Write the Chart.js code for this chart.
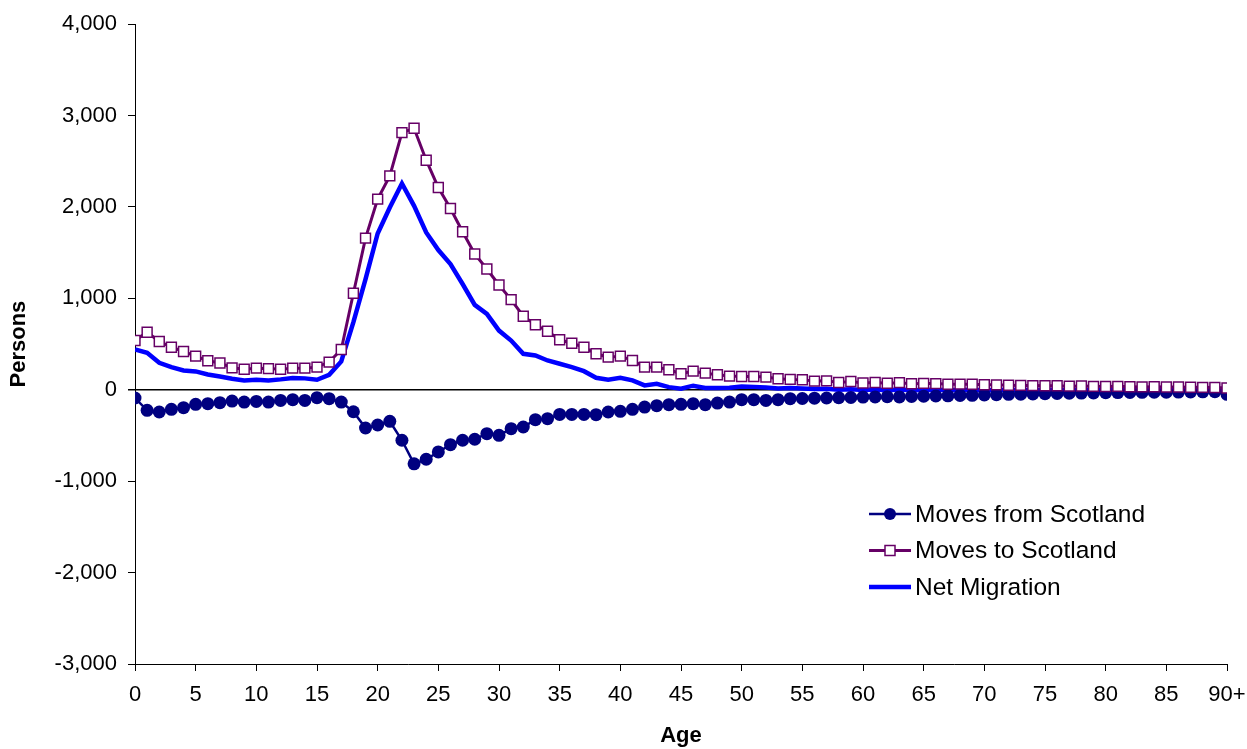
<!DOCTYPE html>
<html>
<head>
<meta charset="utf-8">
<script src="https://cdn.jsdelivr.net/npm/chart.js@4"></script>
<style>
    body { margin: 0; background: #fff; }
</style>
</head>
<body>
<canvas id="myChart" width="1247" height="749"></canvas>
<script>
// idades 0..89 e o grupo final "90+"
var idades = [];
for (var i = 0; i <= 90; i++) { idades.push(i); }
var rotulosIdade = idades.map(function (a) { return a == 90 ? '90+' : String(a); });

var yTicks = [-3000, -2000, -1000, 0, 1000, 2000, 3000, 4000];

var movesFrom = [-90, -225, -243, -214, -196, -159, -152, -141, -123, -134,
    -127, -134, -116, -108, -116, -86, -97, -134, -240, -418,
    -385, -345, -552, -810, -760, -680, -600, -552, -541, -480,
    -498, -425, -407, -327, -316, -269, -269, -269, -272, -243,
    -236, -214, -189, -174, -163, -159, -152, -163, -145, -134,
    -108, -108, -116, -108, -97, -95, -92, -90, -86, -84,
    -80, -78, -76, -78, -72, -70, -68, -66, -62, -60,
    -56, -54, -50, -48, -45, -42, -40, -38, -36, -34,
    -32, -30, -29, -28, -27, -26, -25, -24, -22, -20,
    -50];

var movesTo = [539, 630, 528, 466, 419, 368, 318, 294, 240, 225,
    237, 232, 225, 237, 237, 248, 303, 441, 1056, 1660,
    2086, 2341, 2814, 2861, 2512, 2213, 1984, 1729, 1486, 1322,
    1147, 987, 805, 711, 641, 547, 510, 466, 394, 357,
    368, 321, 248, 248, 219, 176, 204, 182, 165, 150,
    146, 146, 139, 121, 114, 110, 95, 98, 80, 90,
    75, 80, 72, 78, 66, 70, 68, 60, 62, 60,
    55, 54, 50, 48, 46, 45, 44, 40, 42, 38,
    36, 38, 34, 32, 33, 30, 31, 28, 27, 25,
    20];

var netMigration = [441, 405, 296, 248, 212, 201, 168, 146, 121, 103,
    110, 103, 114, 128, 125, 110, 164, 310, 740, 1210,
    1710, 1995, 2257, 2013, 1722, 1529, 1376, 1158, 929, 831,
    648, 539, 394, 376, 321, 285, 248, 204, 132, 110,
    132, 103, 48, 66, 29, 12, 45, 19, 19, 22,
    37, 32, 25, 15, 19, 15, 10, 12, 0, 6,
    -2, 3, -4, 2, -5, -2, 0, -5, -3, -2,
    -4, -3, 0, -2, -3, -2, 0, -4, -2, -3,
    -2, -1, -3, -2, -1, -3, -2, -3, -2, -4,
    -30];

function pontos(valores) {
    return valores.map(function (v, i) { return { x: idades[i], y: v }; });
}

Chart.defaults.font.family = "'Liberation Sans', Arial, sans-serif";
Chart.defaults.color = '#000';

// legenda desenhada dentro da area do grafico
var legendaPlugin = {
    id: 'legendaInterna',
    afterDraw: function (chart) {
        var c = chart.ctx;
        var itens = chart.data.datasets;
        var ordem = [1, 0, 2];
        var y0 = 514, passo = 36.5;
        c.save();
        c.font = "24.5px 'Liberation Sans', Arial, sans-serif";
        c.textBaseline = 'middle';
        c.textAlign = 'left';
        ordem.forEach(function (idx, k) {
            var ds = itens[idx];
            var y = y0 + k * passo;
            c.strokeStyle = ds.borderColor;
            c.lineWidth = ds.borderWidth;
            c.beginPath();
            c.moveTo(869, y);
            c.lineTo(911, y);
            c.stroke();
            if (ds.pointRadius > 0) {
                c.fillStyle = ds.pointBackgroundColor;
                c.strokeStyle = ds.pointBorderColor;
                c.lineWidth = ds.pointBorderWidth;
                c.beginPath();
                if (ds.pointStyle == 'circle') {
                    c.arc(890, y, 6, 0, Math.PI * 2);
                } else {
                    c.rect(885, y - 5, 10, 10);
                }
                c.fill();
                if (ds.pointBorderWidth > 0) c.stroke();
            }
            c.fillStyle = '#000';
            c.fillText(ds.label, 915, y + 1);
        });
        c.restore();
    }
};

const ctx = document.getElementById('myChart');

new Chart(ctx, {
    type: 'line',
    data: {
        datasets: [{
            label: 'Moves to Scotland',
            data: pontos(movesTo),
            borderColor: '#660066',
            borderWidth: 3,
            pointStyle: 'rect',
            pointRadius: 7,
            pointBorderWidth: 1.5,
            pointBackgroundColor: '#ffffff',
            pointBorderColor: '#660066',
            order: 0
        }, {
            label: 'Moves from Scotland',
            data: pontos(movesFrom),
            borderColor: '#000080',
            borderWidth: 2.5,
            pointStyle: 'circle',
            pointRadius: 6.5,
            pointBorderWidth: 0,
            pointBackgroundColor: '#000080',
            pointBorderColor: '#000080',
            order: 1
        }, {
            label: 'Net Migration',
            data: pontos(netMigration),
            borderColor: '#0000ff',
            borderWidth: 4.5,
            pointRadius: 0,
            order: 2
        }]
    },
    options: {
        responsive: false,
        animation: false,
        layout: { padding: { left: 0, right: 20, top: 23, bottom: 0 } },
        plugins: {
            legend: { display: false },
            tooltip: { enabled: false }
        },
        scales: {
            x: {
                type: 'linear',
                min: 0,
                max: 90,
                afterFit: function (s) {
                    s.height = 85;
                    s.paddingRight = 0;
                    s.paddingLeft = 0;
                },
                ticks: {
                    stepSize: 5,
                    font: { size: 22 },
                    padding: 11,
                    maxRotation: 0,
                    callback: function (v) { return rotulosIdade[v]; }
                },
                grid: { drawOnChartArea: false, tickLength: 7, color: '#000' },
                border: { color: '#000', width: 1 },
                title: {
                    display: true,
                    text: 'Age',
                    font: { size: 22, weight: 'bold' },
                    padding: { top: 0, bottom: 0 }
                }
            },
            y: {
                min: -3000,
                max: 4000,
                afterFit: function (s) { s.width = 135; },
                afterBuildTicks: function (s) {
                    s.ticks = yTicks.map(function (v) { return { value: v }; });
                },
                ticks: {
                    font: { size: 22 },
                    padding: 11,
                    callback: function (v) { return v.toLocaleString('en-US'); }
                },
                grid: {
                    tickLength: 7,
                    tickColor: '#000',
                    color: function (c) { return c.tick && c.tick.value === 0 ? '#000' : 'rgba(0,0,0,0)'; },
                    lineWidth: function (c) { return c.tick && c.tick.value === 0 ? 1.5 : 1; }
                },
                border: { color: '#000', width: 1 },
                title: {
                    display: true,
                    text: 'Persons',
                    font: { size: 22, weight: 'bold' },
                    padding: { top: 6, bottom: 0 }
                }
            }
        }
    },
    plugins: [legendaPlugin]
});
</script>
</body>
</html>
